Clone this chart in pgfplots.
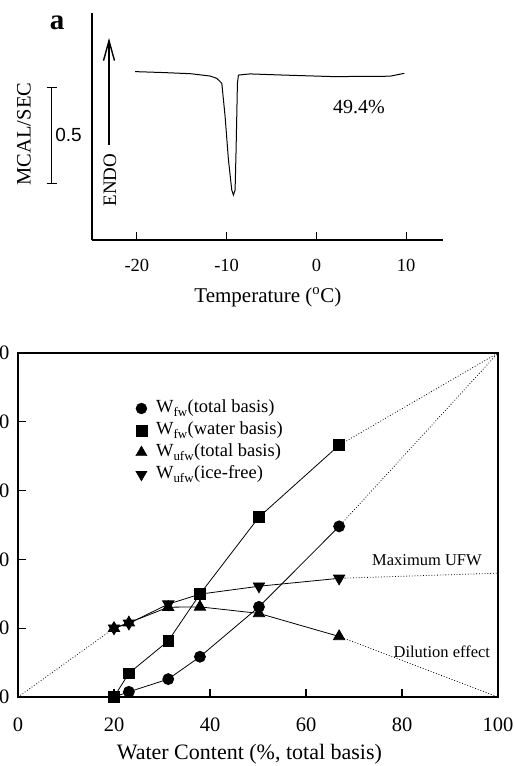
\documentclass[border=0pt]{standalone}
\usepackage{pgfplots}
\pgfplotsset{compat=1.18}
\usepackage{fontspec}
\setmainfont{Liberation Serif}
\newfontfamily\arialfont{Liberation Sans}
\usetikzlibrary{arrows.meta}

\pgfplotstableread{
x y
20.0 0
23.1 1.5
31.3 5.2
37.9 11.7
50.2 26.2
66.9 49.6
}\fwtotal
\pgfplotstableread{
x y
20.0 0
23.1 6.9
31.3 16.3
37.9 29.9
50.2 52.3
66.9 73.2
}\fwwater
\pgfplotstableread{
x y
20.0 20.0
23.1 21.6
31.3 26.1
37.9 26.2
50.2 24.3
66.9 17.6
}\ufwtotal
\pgfplotstableread{
x y
20.0 20.0
23.1 21.4
31.3 27.0
37.9 29.9
50.2 32.2
66.9 34.5
}\ufwice

\begin{document}
\begin{tikzpicture}
% ---------------- panel a : DSC curve ----------------
\begin{axis}[
  at={(92pt,526pt)}, anchor=south west,
  scale only axis, width=351pt, height=227pt,
  xmin=-25, xmax=14.1, ymin=0, ymax=1.1823,
  axis x line*=bottom, axis y line*=left,
  axis line style={line width=1.6pt},
  xtick={-20,-10,0,10}, ytick=\empty, xtick pos=bottom,
  tick align=inside, major tick length=8pt,
  tick style={line width=1.2pt, black},
  xticklabel style={font=\fontsize{18.5}{18.5}\selectfont, yshift=-16pt},
  /pgf/number format/assume math mode=true,
  xlabel={Temperature ($^{\mathrm{o}}$C)},
  xlabel style={font=\fontsize{21}{21}\selectfont, at={(axis description cs:0.501,0)}, anchor=center, yshift=-57pt},
  clip=false,
]
\addplot[line width=1pt, black] coordinates {
(-20.2,0.877) (-17,0.872) (-14,0.866) (-11.85,0.854) (-11.1,0.842)
(-10.54,0.816) (-10.17,0.642) (-9.80,0.417) (-9.43,0.260) (-9.25,0.234)
(-9.06,0.260) (-8.95,0.469) (-8.80,0.816) (-8.69,0.859) (-7.39,0.865)
(-3.7,0.859) (1.87,0.851) (8.2,0.853) (9.78,0.868)
};
\end{axis}
% annotations of panel a
\node[font=\bfseries\fontsize{29}{29}\selectfont] at (57pt,743pt) {a};
\node[rotate=90, font=\fontsize{20.5}{20.5}\selectfont] at (24pt,632pt) {MCAL/SEC};
\draw[line width=0.9pt] (51.7pt,678.7pt) -- (51.7pt,582.7pt);
\draw[line width=0.9pt] (46.7pt,678.7pt) -- (56.7pt,678.7pt);
\draw[line width=0.9pt] (46.7pt,582.7pt) -- (56.7pt,582.7pt);
\node[font=\arialfont\fontsize{19}{19}\selectfont] at (68.5pt,631pt) {0.5};
\draw[line width=1.4pt, -{Straight Barb[length=20pt,width=11pt,line width=1.4pt]}] (109pt,621pt) -- (109pt,728pt);
\node[rotate=90, font=\fontsize{19}{19}\selectfont] at (110pt,586pt) {ENDO};
\node[font=\fontsize{20}{20}\selectfont] at (359pt,659pt) {49.4\%};

% ---------------- panel b ----------------
\begin{axis}[
  at={(18pt,69pt)}, anchor=south west,
  scale only axis, width=480pt, height=344pt,
  xmin=0, xmax=100, ymin=0, ymax=100,
  xtick={0,20,...,100}, ytick={0,20,...,100},
  xtick pos=bottom, ytick pos=left, tick align=inside,
  major tick length=8pt,
  axis line style={line width=1.6pt},
  tick style={line width=1.2pt, black},
  ticklabel style={font=\fontsize{20.5}{20.5}\selectfont},
  xticklabel style={yshift=-17pt},
  yticklabel style={xshift=-5pt},
  /pgf/number format/assume math mode=true,
  xlabel={Water Content (\%, total basis)},
  xlabel style={font=\fontsize{22}{22}\selectfont, at={(axis description cs:0.482,0)}, anchor=center, yshift=-57pt},
  legend style={at={(0.245,0.864)}, anchor=north west, draw=none, fill=none,
    inner sep=0pt, row sep=5pt, column sep=9pt, font=\fontsize{18.5}{18.5}\selectfont,
    nodes={inner sep=0pt, text height=13pt, text depth=4pt}},
  legend cell align=left,
  clip=false,
]
% dotted extensions
\addplot[dotted, line width=0.8pt, forget plot] coordinates {(0,0) (20,20)};
\addplot[dotted, line width=0.8pt, forget plot] coordinates {(66.9,73.2) (100,100)};
\addplot[dotted, line width=0.8pt, forget plot] coordinates {(66.9,49.6) (100,100)};
\addplot[dotted, line width=0.8pt, forget plot] coordinates {(66.9,34.5) (100,36)};
\addplot[dotted, line width=0.8pt, forget plot] coordinates {(66.9,17.6) (100,0)};
% data
\addplot[black, line width=0.8pt, mark=*, mark size=5.5pt, forget plot] table {\fwtotal};
\addplot[black, line width=0.8pt, mark=square*, mark size=5.3pt, forget plot] table {\fwwater};
\addplot[black, line width=0.8pt, mark=triangle*, mark size=6.5pt, forget plot] table {\ufwtotal};
\addplot[black, line width=0.8pt, mark=triangle*, mark size=6.5pt, mark options={rotate=180}, forget plot] table {\ufwice};
% legend
\addlegendimage{only marks, black, mark=*, mark size=5.5pt}
\addlegendentry{W\textsubscript{fw}(total basis)}
\addlegendimage{only marks, black, mark=square*, mark size=5.3pt}
\addlegendentry{W\textsubscript{fw}(water basis)}
\addlegendimage{only marks, black, mark=triangle*, mark size=6.5pt}
\addlegendentry{W\textsubscript{ufw}(total basis)}
\addlegendimage{only marks, black, mark=triangle*, mark size=6.5pt, mark options={rotate=180}}
\addlegendentry{W\textsubscript{ufw}(ice-free)}
% text labels
\node[font=\fontsize{16.5}{16.5}\selectfont] at (axis cs:85.2,39.9) {Maximum UFW};
\node[font=\fontsize{16.5}{16.5}\selectfont] at (axis cs:88.3,13.2) {Dilution effect};
\end{axis}
\pgfresetboundingbox
\path[use as bounding box] (0pt,0pt) rectangle (514pt,766pt);
\end{tikzpicture}
\end{document}
